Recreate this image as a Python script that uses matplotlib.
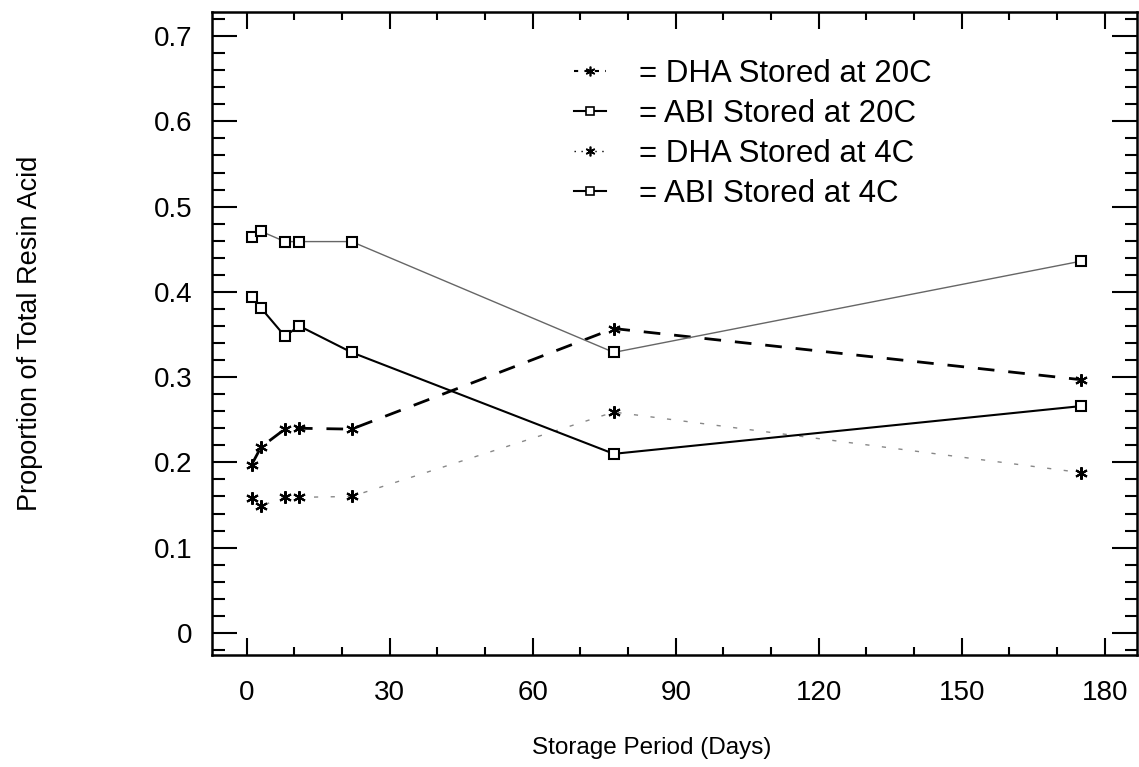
import matplotlib
matplotlib.use("Agg")
import matplotlib.pyplot as plt
from matplotlib.ticker import MultipleLocator
from matplotlib.lines import Line2D

plt.rcParams['font.family'] = ['Liberation Sans', 'DejaVu Sans']

days_early = [1, 3, 8, 11, 22, 77, 175]
dha_20c = [0.197, 0.218, 0.239, 0.240, 0.239, 0.357, 0.297]
abi_20c = [0.464, 0.471, 0.459, 0.459, 0.459, 0.329, 0.436]
dha_4c = [0.158, 0.149, 0.159, 0.159, 0.160, 0.259, 0.188]
abi_4c = [0.394, 0.381, 0.348, 0.360, 0.329, 0.210, 0.266]

labels = ["= DHA Stored at 20C", "= ABI Stored at 20C",
          "= DHA Stored at 4C", "= ABI Stored at 4C"]
x_ticks = [0, 30, 60, 90, 120, 150, 180]
y_ticks = [0, 0.1, 0.2, 0.3, 0.4, 0.5, 0.6, 0.7]

fig = plt.figure(figsize=(11.39, 7.67), dpi=100)
ax = fig.add_axes([0.1861, 0.146, 0.998 - 0.1861, 0.984 - 0.146])

ast = (6, 2, 0)
ax.plot(days_early, dha_20c, color='black', lw=2.0, ls=(0, (6, 5)),
        marker=ast, ms=9, mew=1.5)
ax.plot(days_early, abi_20c, color='#666666', lw=1.0, ls='-',
        marker='s', ms=7, mfc='white', mec='black', mew=1.5)
ax.plot(days_early, dha_4c, color='#888888', lw=1.0, ls=(0, (3, 9)),
        marker=ast, ms=9, mew=1.5, mec='black')
ax.plot(days_early, abi_4c, color='black', lw=1.5, ls='-',
        marker='s', ms=7, mfc='white', mec='black', mew=1.5)

leg_handles = [
    Line2D([], [], color='black', lw=1.5, ls=(0, (2, 3)), marker=ast, ms=7, mew=1.2),
    Line2D([], [], color='black', lw=1.5, ls='-', marker='s', ms=6, mfc='white', mew=1.2),
    Line2D([], [], color='black', lw=1.0, ls=(0, (1, 4)), marker=ast, ms=7, mew=1.2),
    Line2D([], [], color='black', lw=1.5, ls='-', marker='s', ms=6, mfc='white', mew=1.2),
]
ax.legend(leg_handles, labels, loc='upper left', bbox_to_anchor=(0.392, 0.928),
          frameon=False, fontsize=22.5, handlelength=1.0, handletextpad=1.05,
          labelspacing=0.32, borderpad=0, borderaxespad=0)

ax.set_xlim(-7.3, 186.7)
ax.set_ylim(-0.026, 0.728)
ax.set_xticks(x_ticks)
ax.set_yticks(y_ticks)
ax.set_yticklabels(['0', '0.1', '0.2', '0.3', '0.4', '0.5', '0.6', '0.7'])
ax.xaxis.set_minor_locator(MultipleLocator(10))
ax.yaxis.set_minor_locator(MultipleLocator(0.02))
ax.tick_params(which='both', direction='in', top=True, right=True,
               labelsize=20, width=1.5)
ax.tick_params(axis='y', which='major', length=18, pad=14)
ax.tick_params(axis='y', which='minor', length=9)
ax.tick_params(axis='x', which='major', length=12, pad=18)
ax.tick_params(axis='x', which='minor', length=6)
for s in ax.spines.values():
    s.set_linewidth(1.8)

ax.set_xlabel('Storage Period (Days)', fontsize=17.5)
ax.xaxis.set_label_coords(0.475, -0.127)
ax.set_ylabel('Proportion of Total Resin Acid', fontsize=19.5)
ax.yaxis.set_label_coords(-0.183, 0.5)

fig.savefig('out.png', dpi=100)
